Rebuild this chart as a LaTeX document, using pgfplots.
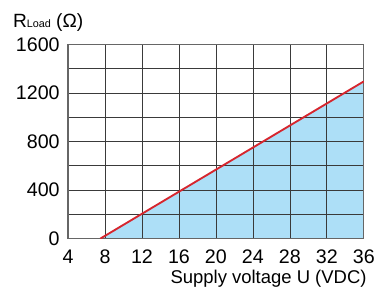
\documentclass[border=0pt]{standalone}
\usepackage{fontspec}
\setmainfont{Liberation Sans}
\usepackage{pgfplots}
\pgfplotsset{compat=1.18}
\definecolor{fillblue}{HTML}{ADDFF7}
\definecolor{linered}{HTML}{D6262E}
\definecolor{gridc}{HTML}{3A3A3A}
\begin{document}
\begin{tikzpicture}
\begin{axis}[
  set layers,
  at={(69bp,50bp)}, anchor=south west,
  width=300bp, height=197bp, scale only axis,
  xmin=4, xmax=36, ymin=0, ymax=1600,
  xtick={4,8,...,36},
  ytick={0,400,...,1600},
  minor ytick={200,600,1000,1400},
  grid=both,
  major grid style={gridc, line width=0.7bp},
  minor grid style={gridc, line width=0.7bp},
  axis line style={black!60, line width=1.2bp},
  major tick length=0pt, minor tick length=0pt,
  /pgf/number format/assume math mode=true,
  /pgf/number format/1000 sep={},
  tick label style={font=\fontsize{20}{22}\selectfont},
  yticklabel style={xshift=-5bp},
  xticklabel style={anchor=base, yshift=-25bp},
]
\addplot[fill=fillblue, draw=none, on layer=axis background] coordinates {(7.5,0) (36,1295) (36,0) (7.5,0)};
\addplot[linered, line width=1.9bp] coordinates {(7.5,0) (36,1295)};
\end{axis}
\node[anchor=base west, inner sep=0] at (13bp,264bp) {\fontsize{19.5}{22}\selectfont R{\fontsize{11}{12}\selectfont Load} (Ω)};
\node[anchor=base east, inner sep=0] at (372bp,4bp) {\fontsize{18.8}{22}\selectfont Supply voltage U (VDC)};
\path (0,0) rectangle (378bp,292bp);
\end{tikzpicture}
\end{document}
